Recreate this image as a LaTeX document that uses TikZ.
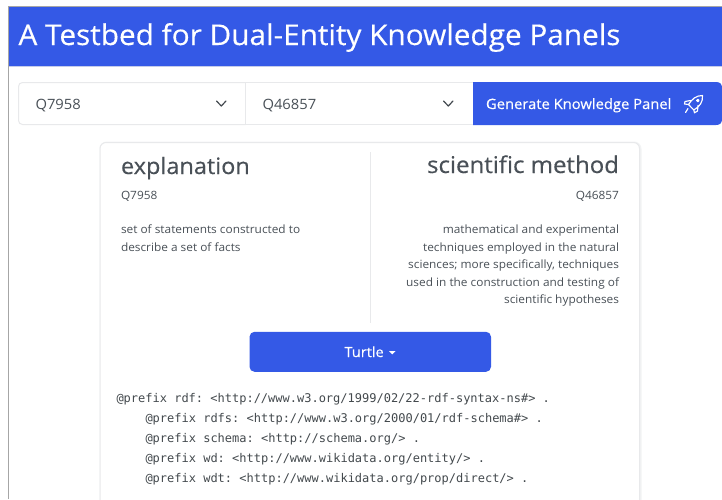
\documentclass[tikz,border=0pt]{standalone}
\usepackage{fontspec}
\setmainfont[FakeStretch=1.04]{Open Sans}
\newfontfamily\medf[FakeStretch=1.04,FakeBold=0.35]{Open Sans}
\setmonofont{DejaVu Sans Mono}
\usetikzlibrary{calc}
\definecolor{brand}{HTML}{3459E6}
\definecolor{ink}{HTML}{495057}
\definecolor{soft}{HTML}{E8E9EB}
\definecolor{codeink}{HTML}{43494D}
\newcommand{\fs}[1]{\fontsize{#1}{#1}\selectfont}
\tikzset{
  x=1pt,y=-1pt,
  txtl/.style={anchor=base west,inner sep=0pt,outer sep=0pt,text=ink},
  txtr/.style={anchor=base east,inner sep=0pt,outer sep=0pt,text=ink},
  txtw/.style={anchor=base west,inner sep=0pt,outer sep=0pt,text=white},
  codeline/.style={anchor=base west,inner sep=0pt,outer sep=0pt,text=codeink,font=\ttfamily\fs{12}},
  chev/.style={draw=ink!90!black,line width=1.2pt,line cap=round,line join=round},
  boxline/.style={draw=soft,line width=1pt,fill=white}
}
\begin{document}
\begin{tikzpicture}
\useasboundingbox (0,0) rectangle (722,499);
\fill[white] (0,0) rectangle (722,499);
% page frame and banner
\fill[brand] (8.5,6.5) rectangle (722,66);
\draw[gray!70,line width=0.8pt] (722,6.3) -- (8.3,6.3) -- (8.3,499);
\draw[soft!80!brand,line width=0.7pt] (8.7,66.3) -- (722,66.3);
\node[txtw] (title) at (18.5,45) {\medf\fs{28.6}A Testbed for Dual-Entity Knowledge Panels};
% selects
\draw[boxline,rounded corners=4pt] (245.5,82.5) -- (18.5,82.5) -- (18.5,124.5) -- (245.5,124.5);
\draw[boxline] (245.5,82.5) rectangle (473,124.5);
\node[txtl] (sela) at (35.5,109) {\fs{14.2}Q7958};
\node[txtl] (selb) at (262.5,109) {\fs{14.2}Q46857};
\draw[chev] (216.5,101) -- (221.3,106) -- (226,101);
\draw[chev] (443.5,101) -- (448.3,106) -- (453,101);
% generate button
\fill[brand] (473,82) -- (716,82) .. controls (720,82) and (722,84) .. (722,88) -- (722,119) .. controls (722,123) and (720,125) .. (716,125) -- (473,125) -- cycle;
\node[txtw] (gen) at (486,109) {\medf\fs{14.2}Generate Knowledge Panel};
% rocket icon
\begin{scope}[draw=white,line width=1.15pt,line join=round,line cap=round]
\draw (702.5,95.5) .. controls (696,95.5) and (692,99) .. (688.5,104.5) -- (693.8,110) .. controls (699.5,106.5) and (703,102.5) .. (702.5,95.5) -- cycle;
\draw (690.5,100.5) -- (685,101.5) -- (684.5,104) -- (688.5,104.5);
\draw (698,105.5) -- (697.5,111) -- (694.5,112.8) -- (693.8,110);
\draw (688,108.5) -- (685.5,112.5);
\draw (697.8,100.5) circle (1.2);
\end{scope}
% card
\draw[soft!55,line width=3pt,rounded corners=6pt] (101,505) -- (101,143) -- (640,143) -- (640,505);
\draw[soft,line width=1pt,fill=white,rounded corners=6pt] (100,505) -- (100,142.5) -- (639.5,142.5) -- (639.5,505);
\draw[soft,line width=1pt] (370.5,152) -- (370.5,323);
\node[txtl] (nameA) at (121,174) {\medf\fs{22.6}explanation};
\node[txtr] (nameB) at (619,173) {\medf\fs{23.1}scientific method};
\node[txtl] (qA) at (121,199) {\fs{11.4}Q7958};
\node[txtr] (qB) at (619,199.5) {\fs{11.4}Q46857};
\node[txtl] (descA1) at (121,233.5) {\fs{11.4}set of statements constructed to};
\node[txtl] (descA2) at (121,251) {\fs{11.4}describe a set of facts};
\node[txtr] (descB1) at (619,233.5) {\fs{11.4}mathematical and experimental};
\node[txtr] (descB2) at (619,251) {\fs{11.4}techniques employed in the natural};
\node[txtr] (descB3) at (619,268.5) {\fs{11.4}sciences; more specifically, techniques};
\node[txtr] (descB4) at (619,286) {\fs{11.4}used in the construction and testing of};
\node[txtr] (descB5) at (619,303) {\fs{11.4}scientific hypotheses};
% turtle button
\fill[brand,rounded corners=5pt] (249.5,331.8) rectangle (491,371.8);
\node[txtw] (turtle) at (344.5,357) {\medf\fs{14}Turtle};
\fill[white] (389,351) -- (395.6,351) -- (392.3,354.3) -- cycle;
% code
\node[codeline] (c1) at (116.5,402) {@prefix rdf: <http://www.w3.org/1999/02/22-rdf-syntax-ns\#> .};
\node[codeline] (c2) at (145.5,422) {@prefix rdfs: <http://www.w3.org/2000/01/rdf-schema\#> .};
\node[codeline] (c3) at (145.5,442) {@prefix schema: <http://schema.org/> .};
\node[codeline] (c4) at (145.5,462) {@prefix wd: <http://www.wikidata.org/entity/> .};
\node[codeline] (c5) at (145.5,482) {@prefix wdt: <http://www.wikidata.org/prop/direct/> .};
\end{tikzpicture}
\end{document}
